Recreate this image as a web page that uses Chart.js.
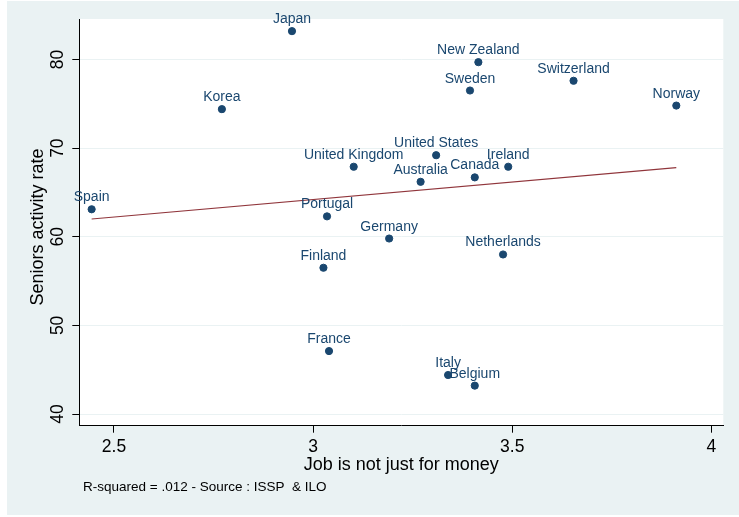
<!DOCTYPE html>
<html>
<head>
<meta charset="utf-8">
<title>Seniors activity rate vs. job attitude</title>
<script src="https://cdn.jsdelivr.net/npm/chart.js@4/dist/chart.umd.min.js"></script>
<style>
  html, body { margin: 0; padding: 0; background: #ffffff; }
  canvas { display: block; }
</style>
</head>
<body>
<canvas id="chart" width="739" height="517"></canvas>
<script>
// Countries and their values
const countries = [
  "Japan", "New Zealand", "Sweden", "Switzerland", "Norway", "Korea",
  "United States", "United Kingdom", "Australia", "Canada", "Ireland",
  "Spain", "Portugal", "Germany", "Netherlands", "Finland", "France",
  "Italy", "Belgium"
];
const jobScores = [
  2.947, 3.415, 3.394, 3.654, 3.912, 2.771,
  3.309, 3.102, 3.270, 3.406, 3.490,
  2.444, 3.035, 3.191, 3.477, 3.026, 3.040,
  3.339, 3.406
];
const activityRates = [
  83.2, 79.7, 76.5, 77.6, 74.8, 74.4,
  69.2, 67.9, 66.2, 66.7, 67.9,
  63.1, 62.3, 59.8, 58.0, 56.5, 47.1,
  44.4, 43.2
];

// Fitted line end points
const fitX = [2.444, 3.912];
const fitY = [62.0, 67.8];

// Axis ticks
const xTicks = [2.5, 3, 3.5, 4];
const yTicks = [40, 50, 60, 70, 80];
const xTickLabels = ["2.5", "3", "3.5", "4"];
const yTickLabels = ["40", "50", "60", "70", "80"];

const NAVY = "#1a476f";
const MAROON = "#90353b";
const BG = "#eaf2f3";
const FONT = '"Liberation Sans", Arial, Helvetica, sans-serif';

const points = jobScores.map((x, i) => ({ x: x, y: activityRates[i] }));
const fitLine = fitX.map((x, i) => ({ x: x, y: fitY[i] }));

// Graph background and white plot region
const backgroundPlugin = {
  id: "stataBackground",
  beforeDraw(chart) {
    const ctx = chart.ctx;
    const a = chart.chartArea;
    ctx.save();
    ctx.fillStyle = BG;
    ctx.fillRect(7, 1, chart.width - 7, 514);
    ctx.fillStyle = "#ffffff";
    ctx.fillRect(a.left, a.top, a.right - a.left, a.bottom - a.top);
    ctx.restore();
  }
};

// Country labels above each marker, tick labels, titles and note
const textPlugin = {
  id: "stataText",
  afterDatasetsDraw(chart) {
    const ctx = chart.ctx;
    const meta = chart.getDatasetMeta(1);
    ctx.save();
    ctx.fillStyle = NAVY;
    ctx.font = "14px " + FONT;
    ctx.textAlign = "center";
    ctx.textBaseline = "alphabetic";
    meta.data.forEach((el, i) => {
      ctx.fillText(countries[i], el.x, el.y - 8);
    });
    ctx.restore();
  },
  afterDraw(chart) {
    const ctx = chart.ctx;
    const xs = chart.scales.x;
    const ys = chart.scales.y;
    const a = chart.chartArea;
    ctx.save();
    ctx.fillStyle = "#000000";
    ctx.textBaseline = "alphabetic";

    // x tick labels
    ctx.font = "17.5px " + FONT;
    ctx.textAlign = "center";
    xTicks.forEach((v, i) => {
      ctx.fillText(xTickLabels[i], xs.getPixelForValue(v), 452);
    });

    // y tick labels, rotated
    yTicks.forEach((v, i) => {
      ctx.save();
      ctx.translate(a.left - 16, ys.getPixelForValue(v));
      ctx.rotate(-Math.PI / 2);
      ctx.fillText(yTickLabels[i], 0, 0);
      ctx.restore();
    });

    // axis titles
    ctx.font = "18px " + FONT;
    ctx.fillText("Job is not just for money", (a.left + a.right) / 2, 469.5);
    ctx.save();
    ctx.translate(43, 227);
    ctx.rotate(-Math.PI / 2);
    ctx.fillText("Seniors activity rate", 0, 0);
    ctx.restore();

    // note
    ctx.font = "13.5px " + FONT;
    ctx.textAlign = "left";
    ctx.fillText("R-squared = .012 - Source : ISSP  & ILO", 83, 491);
    ctx.restore();
  }
};

new Chart(document.getElementById("chart"), {
  type: "scatter",
  data: {
    datasets: [
      {
        type: "line",
        label: "Fitted values",
        data: fitLine,
        borderColor: MAROON,
        borderWidth: 1.2,
        pointRadius: 0,
        fill: false,
        tension: 0,
        order: 2
      },
      {
        label: "Seniors activity rate",
        data: points,
        backgroundColor: NAVY,
        borderColor: NAVY,
        pointRadius: 3.6,
        pointHoverRadius: 3.6,
        order: 1
      }
    ]
  },
  options: {
    responsive: false,
    animation: false,
    devicePixelRatio: 1,
    layout: { padding: { left: 7, top: 19, right: 15.7, bottom: 0 } },
    plugins: {
      legend: { display: false },
      tooltip: { enabled: false },
      title: { display: false }
    },
    scales: {
      x: {
        type: "linear",
        min: 2.413,
        max: 4.03,
        afterBuildTicks: s => { s.ticks = xTicks.map(v => ({ value: v })); },
        afterFit: s => { s.height = 517 - 425.7; },
        ticks: { display: false },
        grid: {
          drawOnChartArea: false,
          drawTicks: true,
          tickLength: 7,
          tickColor: "#000000",
          tickWidth: 1
        },
        border: { display: true, color: "#000000", width: 1 }
      },
      y: {
        type: "linear",
        min: 38.68,
        max: 84.57,
        afterBuildTicks: s => { s.ticks = yTicks.map(v => ({ value: v })); },
        afterFit: s => { s.width = 79.3 - 7; },
        ticks: { display: false },
        grid: {
          color: BG,
          lineWidth: 1,
          drawTicks: true,
          tickLength: 7,
          tickColor: "#000000",
          tickWidth: 1
        },
        border: { display: true, color: "#000000", width: 1 }
      }
    }
  },
  plugins: [backgroundPlugin, textPlugin]
});
</script>
</body>
</html>
